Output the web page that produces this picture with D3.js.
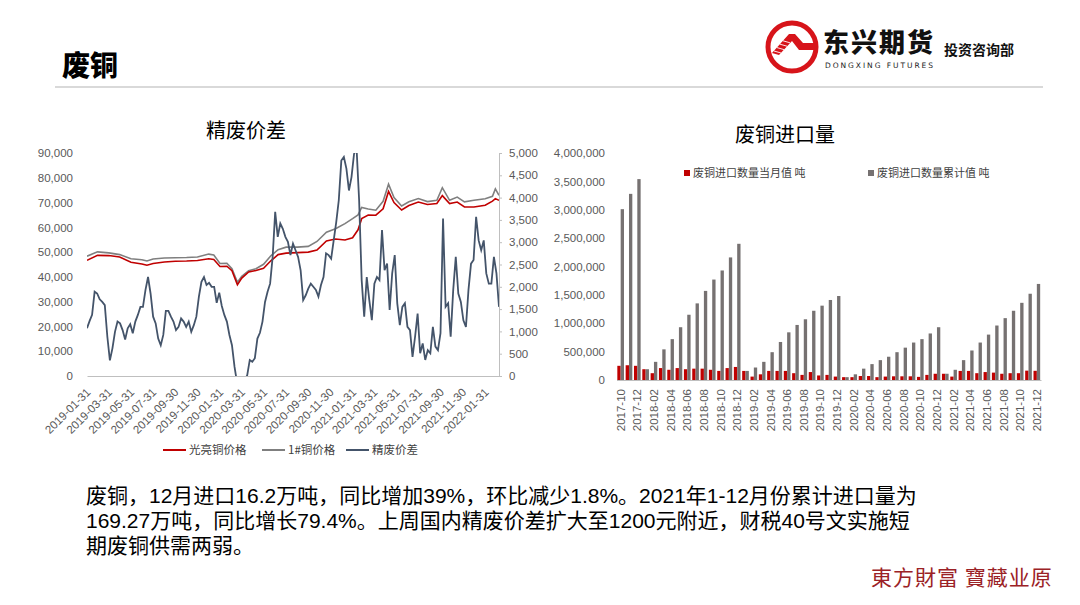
<!DOCTYPE html>
<html>
<head>
<meta charset="utf-8">
<script src="https://cdn.jsdelivr.net/npm/d3@7"></script>
<style>
    body { margin: 0; background: #fff; }
    svg { display: block; font-family: "Liberation Sans", "Noto Sans CJK SC", sans-serif; }
</style>
</head>
<body>
<div id="d3-container"></div>
<script>

// ---- left chart data (精废价差) ----
const spreadDates = [
    '2019-01-31','2019-02-07','2019-02-14','2019-02-21','2019-02-28','2019-03-07','2019-03-14','2019-03-21','2019-03-28',
    '2019-04-04','2019-04-11','2019-04-18','2019-04-25','2019-05-02','2019-05-09','2019-05-16','2019-05-23','2019-05-30',
    '2019-06-06','2019-06-13','2019-06-20','2019-06-27','2019-07-04','2019-07-11','2019-07-18','2019-07-25','2019-08-01',
    '2019-08-08','2019-08-15','2019-08-22','2019-08-29','2019-09-05','2019-09-12','2019-09-19','2019-09-26','2019-10-03',
    '2019-10-10','2019-10-17','2019-10-24','2019-10-31','2019-11-07','2019-11-14','2019-11-21','2019-11-28','2019-12-05',
    '2019-12-12','2019-12-19','2019-12-26',
    '2020-01-02','2020-01-09','2020-01-16','2020-01-23','2020-01-30','2020-02-06','2020-02-13','2020-02-20','2020-02-27',
    '2020-03-05','2020-03-12','2020-03-19','2020-03-26','2020-04-02','2020-04-09','2020-04-16','2020-04-23','2020-04-30',
    '2020-05-07','2020-05-14','2020-05-21','2020-05-28','2020-06-04','2020-06-11','2020-06-18','2020-06-25','2020-07-02',
    '2020-07-09','2020-07-16','2020-07-23','2020-07-30','2020-08-06','2020-08-13','2020-08-20','2020-08-27','2020-09-03',
    '2020-09-10','2020-09-17','2020-09-24','2020-10-01','2020-10-08','2020-10-15','2020-10-22','2020-10-29','2020-11-05',
    '2020-11-12','2020-11-19','2020-11-26','2020-12-03','2020-12-10','2020-12-17','2020-12-24','2020-12-31',
    '2021-01-07','2021-01-14','2021-01-21','2021-01-28','2021-02-04','2021-02-11','2021-02-18','2021-02-25','2021-03-04',
    '2021-03-11','2021-03-18','2021-03-25','2021-04-01','2021-04-08','2021-04-15','2021-04-22','2021-04-29','2021-05-06',
    '2021-05-13','2021-05-20','2021-05-27','2021-06-03','2021-06-10','2021-06-17','2021-06-24','2021-07-01','2021-07-08',
    '2021-07-15','2021-07-22','2021-07-29','2021-08-05','2021-08-12','2021-08-19','2021-08-26','2021-09-02','2021-09-09',
    '2021-09-16','2021-09-23','2021-09-30','2021-10-07','2021-10-14','2021-10-21','2021-10-28','2021-11-04','2021-11-11',
    '2021-11-18','2021-11-25','2021-12-02','2021-12-09','2021-12-16','2021-12-23','2021-12-30',
    '2022-01-06','2022-01-13','2022-01-20','2022-01-27','2022-02-03','2022-02-10','2022-02-17','2022-02-24','2022-03-03',
    '2022-03-10'
]
const spreadValues = [
    1070, 1230, 1370, 1890, 1850, 1720, 1660, 1590, 880,
    350, 620, 990, 1220, 1180, 1030, 820, 1070, 1160,
    960, 1220, 1370, 1550, 1550, 1930, 2220, 1850, 1330,
    1180, 840, 690, 920, 1460, 1460, 1330, 1220, 1030,
    1100, 1290, 1220, 1100, 1220, 990, 1140, 1330, 1780,
    2110, 2220, 2040,
    2090, 2000, 2000, 1640, 1870, 1570, 1370, 1220, 920,
    690, 210, -150, -200, -250, -100, 20, 360, 320,
    400, 840, 970, 1220, 1660, 1890, 2070, 2670, 3680,
    3120, 3420, 3300, 3120, 3010, 2710, 2970, 2820, 2670,
    2370, 1700, 1810, 1960, 2070, 2000, 1930, 1780, 2040,
    2220, 2750, 2710, 2630, 3040, 3450, 3940, 4830,
    4910, 4650, 4160, 4460, 4980, 5100, 3940, 2150, 1330,
    2220, 1700, 1250, 2070, 2220, 2150, 3270, 2370, 2520,
    1480, 2300, 2710, 1630, 1140, 1550, 1630, 1100, 1030,
    430, 880, 1400, 510, 730, 360, 580, 510, 1100,
    660, 580, 960, 3530, 1550, 1630, 880, 1930, 2670,
    1850, 1660, 1250, 1100, 1930, 2520, 2600,
    3570, 3040, 2820, 3040, 2300, 2070, 2070, 2670, 2300,
    1550
]

// copper prices (光亮铜 / 1#铜), yuan per ton
const priceDates = [
    '2019-01-31','2019-03-01','2019-04-01','2019-05-01','2019-06-01','2019-07-01','2019-07-15','2019-08-01',
    '2019-09-01','2019-10-01','2019-11-01','2019-12-01','2020-01-01','2020-01-15','2020-02-01','2020-02-20',
    '2020-03-05','2020-03-20','2020-04-01','2020-04-20','2020-05-10','2020-05-31','2020-06-20','2020-07-10',
    '2020-08-01','2020-09-01','2020-10-01','2020-10-25','2020-11-20','2020-12-15','2021-01-10','2021-01-31',
    '2021-02-15','2021-02-25','2021-03-15','2021-04-05','2021-04-25','2021-05-10','2021-05-25','2021-06-15',
    '2021-07-05','2021-07-31','2021-08-25','2021-09-20','2021-10-05','2021-10-25','2021-11-15','2021-12-05',
    '2021-12-31','2022-01-31','2022-02-20','2022-02-28','2022-03-10'
]
const brightCopper = [
    46700, 48700, 48600, 48000, 45900, 45200, 44700, 45400,
    46000, 46300, 46400, 46600, 47300, 47000, 44200, 44300,
    42500, 36800, 39500, 42000, 42600, 43500, 46500, 49000,
    49600, 49800, 50000, 50800, 54500, 55300, 54900, 55800,
    59000, 63500, 65000, 64900, 67500, 74500, 70000, 67000,
    68800, 70200, 69200, 69600, 72800, 69600, 70200, 68200,
    68200, 68900, 70600, 71600, 70900
]
const no1Copper = [
    48350, 50100, 49700, 49000, 47300, 46900, 46400, 47200,
    47600, 47700, 47800, 48000, 49200, 48800, 45400, 45500,
    43300, 37800, 40200, 42500, 43300, 45100, 48500, 51000,
    52000, 52000, 52300, 54300, 58000, 59400, 61500, 63500,
    65000, 68000, 67400, 66900, 70500, 77400, 72000, 68600,
    70300, 71600, 70400, 70900, 76000, 70900, 72200, 70300,
    70900, 71500, 72500, 75500, 72900
]
const leftTickLabels = [
    '2019-01-31','2019-03-31','2019-05-31','2019-07-31','2019-09-30','2019-11-30','2020-01-31',
    '2020-03-31','2020-05-31','2020-07-31','2020-09-30','2020-11-30','2021-01-31','2021-03-31',
    '2021-05-31','2021-07-31','2021-09-30','2021-11-30','2022-01-31'
]
const leftTicks = [0, 10000, 20000, 30000, 40000, 50000, 60000, 70000, 80000, 90000]
const rightTicks = [0, 500, 1000, 1500, 2000, 2500, 3000, 3500, 4000, 4500, 5000]

// ---- right chart data (废铜进口量), tons ----
const importMonths = [
    '2017-10','2017-11','2017-12',
    '2018-01','2018-02','2018-03','2018-04','2018-05','2018-06','2018-07','2018-08','2018-09','2018-10','2018-11','2018-12',
    '2019-01','2019-02','2019-03','2019-04','2019-05','2019-06','2019-07','2019-08','2019-09','2019-10','2019-11','2019-12',
    '2020-01','2020-02','2020-03','2020-04','2020-05','2020-06','2020-07','2020-08','2020-09','2020-10','2020-11','2020-12',
    '2021-01','2021-02','2021-03','2021-04','2021-05','2021-06','2021-07','2021-08','2021-09','2021-10','2021-11','2021-12'
]
const monthlyImport = [
    250000, 260000, 250000,
    190000, 120000, 210000, 180000, 210000, 190000, 200000, 200000, 180000, 160000, 210000, 230000,
    160000, 60000, 100000, 160000, 160000, 160000, 120000, 90000, 140000, 80000, 90000, 60000,
    50000, 50000, 70000, 70000, 50000, 60000, 65000, 65000, 65000, 55000, 90000, 110000,
    110000, 60000, 160000, 160000, 120000, 140000, 130000, 110000, 120000, 120000, 165000, 162000
]
const cumulativeImport = [
    3010000, 3280000, 3540000,
    190000, 320000, 540000, 720000, 930000, 1150000, 1350000, 1570000, 1770000, 1930000, 2160000, 2400000,
    160000, 220000, 320000, 490000, 670000, 840000, 970000, 1070000, 1220000, 1310000, 1410000, 1480000,
    50000, 100000, 200000, 280000, 350000, 410000, 490000, 570000, 660000, 720000, 820000, 930000,
    110000, 180000, 350000, 520000, 660000, 800000, 960000, 1090000, 1220000, 1360000, 1520000, 1692700
]
const importTicks = [0, 500000, 1000000, 1500000, 2000000, 2500000, 3000000, 3500000, 4000000]

const noteLines = [
    '废铜，12月进口16.2万吨，同比增加39%，环比减少1.8%。2021年1-12月份累计进口量为',
    '169.27万吨，同比增长79.4%。上周国内精废价差扩大至1200元附近，财税40号文实施短',
    '期废铜供需两弱。'
]

const RED = '#c00000'
const GREY = '#7f7f7f'
const SLATE = '#44546a'
const BAR_GREY = '#767171'
const LABEL = '#595959'
const CJK = '"Noto Sans CJK SC", sans-serif'

const parse = d3.timeParse('%Y-%m-%d')

const svg = d3.select('#d3-container')
    .append('svg')
    .attr('width', 1080)
    .attr('height', 605)

// ---- page header ----
svg.append('text')
    .attr('x', 62).attr('y', 76)
    .attr('font-family', CJK).attr('font-weight', 900).attr('font-size', 28)
    .attr('fill', '#000')
    .text('废铜')

svg.append('line')
    .attr('x1', 55).attr('x2', 1043).attr('y1', 87).attr('y2', 87)
    .attr('stroke', '#d9d9d9').attr('stroke-width', 2)

// logo
const logo = svg.append('g')
logo.append('circle')
    .attr('cx', 792).attr('cy', 47).attr('r', 24)
    .attr('fill', '#fff').attr('stroke', '#d7141a').attr('stroke-width', 5)
logo.append('polygon')
    .attr('points', '772,53 789,34 795,34 803,43 815,43 815,50 799,50 792,41 779,55')
    .attr('fill', '#d7141a')
for (let i = 0; i < 4; i++) {
    logo.append('line')
        .attr('x1', 774 + i * 3).attr('y1', 51 - i * 3.4)
        .attr('x2', 781 + i * 3).attr('y2', 53 - i * 3.4)
        .attr('stroke', '#fff').attr('stroke-width', 0.9)
}
svg.append('text')
    .attr('x', 823).attr('y', 52)
    .attr('font-family', CJK).attr('font-weight', 900).attr('font-size', 26)
    .attr('textLength', 110)
    .attr('fill', '#111')
    .text('东兴期货')
svg.append('text')
    .attr('x', 825).attr('y', 68)
    .attr('font-family', '"DejaVu Sans", sans-serif').attr('font-size', 7.5)
    .attr('textLength', 108)
    .attr('fill', '#222')
    .text('DONGXING FUTURES')
svg.append('text')
    .attr('x', 944).attr('y', 55)
    .attr('font-family', CJK).attr('font-weight', 700).attr('font-size', 14)
    .attr('fill', '#111')
    .text('投资咨询部')

// ---- left chart ----
const L = { left: 87, right: 499, top: 153, bottom: 376 }

const lx = d3.scaleTime()
    .domain([parse(spreadDates[0]), parse(spreadDates[spreadDates.length - 1])])
    .range([L.left, L.right])
const yPrice = d3.scaleLinear().domain([0, 90000]).range([L.bottom, L.top])
const ySpread = d3.scaleLinear().domain([0, 5000]).range([L.bottom, L.top])

svg.append('text')
    .attr('x', 246).attr('y', 138)
    .attr('text-anchor', 'middle')
    .attr('font-family', CJK).attr('font-size', 20)
    .attr('fill', '#000')
    .text('精废价差')

const yAxisL = svg.append('g')
    .attr('transform', 'translate(' + L.left + ',0)')
    .call(d3.axisLeft(yPrice).tickValues(leftTicks).tickFormat(d3.format(',')).tickSize(0).tickPadding(14))
yAxisL.select('.domain').remove()

const yAxisR = svg.append('g')
    .attr('transform', 'translate(' + L.right + ',0)')
    .call(d3.axisRight(ySpread).tickValues(rightTicks).tickFormat(d3.format(',')).tickSize(3).tickSizeOuter(0).tickPadding(7))

const xAxisL = svg.append('g')
    .attr('transform', 'translate(0,' + L.bottom + ')')
    .call(d3.axisBottom(lx).tickValues(leftTickLabels.map(parse)).tickFormat(d3.timeFormat('%Y-%m-%d')).tickSize(0).tickSizeOuter(0))
xAxisL.selectAll('text')
    .attr('x', 0).attr('y', 0).attr('dy', '0.35em')
    .attr('text-anchor', 'end')
    .attr('transform', 'translate(1,14) rotate(-45)')

;[yAxisL, yAxisR, xAxisL].forEach(g => {
    g.selectAll('text').attr('fill', LABEL).attr('font-size', 11.5).attr('font-family', '"Liberation Sans", sans-serif')
    g.selectAll('.domain, line').attr('stroke', '#bfbfbf')
})

svg.append('clipPath').attr('id', 'leftClip')
    .append('rect')
    .attr('x', L.left).attr('y', L.top)
    .attr('width', L.right - L.left).attr('height', L.bottom - L.top)

const priceLine = values => d3.line()
    .x((d, i) => lx(parse(priceDates[i])))
    .y(d => yPrice(d))(values)

const plot = svg.append('g').attr('clip-path', 'url(#leftClip)')
plot.append('path')
    .attr('d', priceLine(no1Copper))
    .attr('fill', 'none').attr('stroke', GREY).attr('stroke-width', 1.6)
plot.append('path')
    .attr('d', priceLine(brightCopper))
    .attr('fill', 'none').attr('stroke', RED).attr('stroke-width', 1.6)
plot.append('path')
    .attr('d', d3.line()
        .x((d, i) => lx(parse(spreadDates[i])))
        .y(d => ySpread(d))(spreadValues))
    .attr('fill', 'none').attr('stroke', SLATE).attr('stroke-width', 1.8)

// left legend
const leftLegend = [
    { name: '光亮铜价格', color: RED, x: 163 },
    { name: '1#铜价格', color: GREY, x: 262 },
    { name: '精废价差', color: SLATE, x: 346 }
]
leftLegend.forEach(d => {
    svg.append('line')
        .attr('x1', d.x).attr('x2', d.x + 23).attr('y1', 450).attr('y2', 450)
        .attr('stroke', d.color).attr('stroke-width', 2)
    svg.append('text')
        .attr('x', d.x + 26).attr('y', 454)
        .attr('font-family', CJK).attr('font-size', 11.5)
        .attr('fill', '#404040')
        .text(d.name)
})

// ---- right chart ----
const R = { left: 616.5, right: 1041, top: 153, bottom: 380 }

const bx = d3.scaleBand()
    .domain(importMonths)
    .range([R.left, R.right])
    .paddingInner(0.2)
    .paddingOuter(0.1)
const by = d3.scaleLinear().domain([0, 4000000]).range([R.bottom, R.top])
const bw = bx.bandwidth() / 2

svg.append('text')
    .attr('x', 785).attr('y', 142)
    .attr('text-anchor', 'middle')
    .attr('font-family', CJK).attr('font-size', 20)
    .attr('fill', '#000')
    .text('废铜进口量')

const yAxisB = svg.append('g')
    .attr('transform', 'translate(' + 613 + ',0)')
    .call(d3.axisLeft(by).tickValues(importTicks).tickFormat(d3.format(',')).tickSize(0).tickPadding(8))
yAxisB.select('.domain').remove()

svg.selectAll('rect.month')
    .data(monthlyImport)
    .enter()
    .append('rect')
    .attr('class', 'month')
    .attr('x', (d, i) => bx(importMonths[i]))
    .attr('y', d => by(d))
    .attr('width', bw)
    .attr('height', d => by(0) - by(d))
    .attr('fill', RED)

svg.selectAll('rect.cum')
    .data(cumulativeImport)
    .enter()
    .append('rect')
    .attr('class', 'cum')
    .attr('x', (d, i) => bx(importMonths[i]) + bw)
    .attr('y', d => by(d))
    .attr('width', bw)
    .attr('height', d => by(0) - by(d))
    .attr('fill', BAR_GREY)

const xAxisB = svg.append('g')
    .attr('transform', 'translate(0,' + R.bottom + ')')
    .call(d3.axisBottom(bx).tickValues(importMonths.filter((d, i) => i % 2 === 0)).tickSize(0).tickSizeOuter(0))
xAxisB.selectAll('text')
    .attr('x', 0).attr('y', 0).attr('dy', '0.35em')
    .attr('text-anchor', 'end')
    .attr('transform', 'translate(0,9) rotate(-90)')

;[yAxisB, xAxisB].forEach(g => {
    g.selectAll('text').attr('fill', LABEL).attr('font-size', 11.5).attr('font-family', '"Liberation Sans", sans-serif')
    g.selectAll('.domain').attr('stroke', '#bfbfbf')
})

// right legend
const rightLegend = [
    { name: '废铜进口数量当月值 吨', color: RED, x: 684 },
    { name: '废铜进口数量累计值 吨', color: BAR_GREY, x: 868 }
]
rightLegend.forEach(d => {
    svg.append('rect')
        .attr('x', d.x).attr('y', 170).attr('width', 6).attr('height', 6)
        .attr('fill', d.color)
    svg.append('text')
        .attr('x', d.x + 9).attr('y', 177)
        .attr('font-family', CJK).attr('font-size', 11)
        .attr('fill', '#404040')
        .text(d.name)
})

// ---- commentary ----
noteLines.forEach((line, i) => {
    svg.append('text')
        .attr('x', 86).attr('y', 503 + i * 25)
        .attr('font-family', '"Liberation Sans", "Noto Sans CJK SC", sans-serif')
        .attr('font-size', 21)
        .attr('fill', '#000')
        .text(line)
})

// footer mark
svg.append('text')
    .attr('x', 871).attr('y', 585)
    .attr('font-family', '"Noto Sans CJK TC", sans-serif').attr('font-size', 21)
    .attr('letter-spacing', 1)
    .attr('fill', '#9b2226')
    .text('東方財富 寶藏业原')

</script>
</body>
</html>
